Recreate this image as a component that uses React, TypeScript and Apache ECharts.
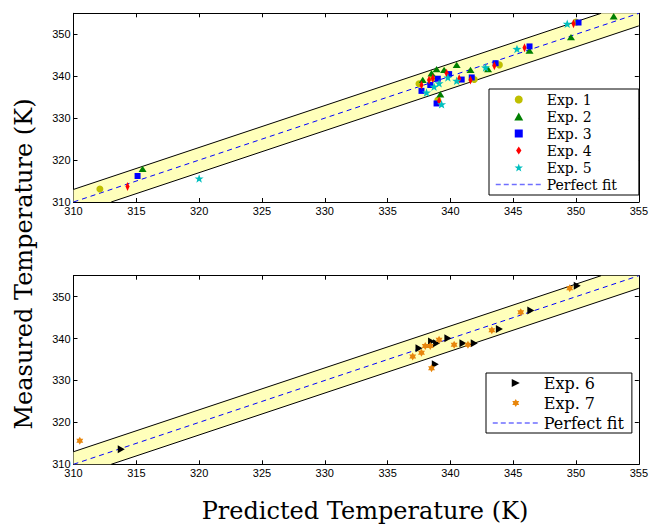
import React, { useEffect, useRef } from "react";
import * as echarts from "echarts";

// ---- axis settings ----
const AXIS_MIN = 310;
const AXIS_MAX = 355;
const X_INTERVAL = 5;
const Y_INTERVAL = 10;
const BAND = 3; // +/- 3 K band

// ---- data (predicted, measured) ----
const exp1 = [
  [312.1, 313.1], [337.5, 338.2], [339.0, 334.3], [341.9, 339.2],
  [343.9, 342.7], [350.0, 352.9], [338.6, 339.6],
];
const exp2 = [
  [315.5, 317.9], [337.8, 339.1], [338.5, 340.7], [338.9, 341.7],
  [339.5, 341.5], [339.2, 335.7], [340.5, 342.7], [341.6, 341.5],
  [343.0, 341.7], [346.3, 346.1], [349.6, 349.3], [353.0, 354.3],
];
const exp3 = [
  [315.1, 316.2], [337.7, 336.5], [338.4, 337.9], [339.0, 339.4],
  [339.9, 340.5], [340.9, 339.2], [341.7, 339.7], [338.9, 333.5],
  [343.6, 343.1], [346.3, 347.1], [350.2, 352.8],
];
const exp4 = [
  [314.3, 313.7], [337.7, 337.9], [338.3, 339.1], [338.6, 339.5],
  [339.7, 340.7], [340.7, 339.4], [341.6, 339.1], [339.1, 334.1],
  [343.5, 342.5], [345.9, 346.8], [349.8, 352.5],
];
const exp5 = [
  [320.0, 315.6], [338.1, 336.1], [338.7, 337.5], [339.1, 338.3],
  [339.8, 339.7], [340.5, 338.9], [339.3, 333.3], [342.8, 342.1],
  [345.3, 346.5], [349.3, 352.5],
];
const exp6 = [
  [313.8, 313.6], [337.5, 337.7], [338.5, 339.3], [338.9, 338.9],
  [339.8, 340.1], [341.0, 338.9], [341.9, 338.9], [338.8, 333.9],
  [343.9, 342.3], [346.4, 346.7], [350.1, 352.6],
];
const exp7 = [
  [310.5, 315.6], [337.0, 335.7], [337.7, 336.6], [338.0, 338.2],
  [338.4, 338.2], [339.1, 339.7], [340.3, 338.5], [341.4, 338.5],
  [338.5, 332.9], [343.3, 342.0], [345.6, 346.3], [349.5, 352.0],
];

const topNames = ["Exp. 1", "Exp. 2", "Exp. 3", "Exp. 4", "Exp. 5", "Perfect fit"];
const bottomNames = ["Exp. 6", "Exp. 7", "Perfect fit"];

// ---- symbols ----
const STAR5 =
  "path://M0,-10L2.35,-3.24L9.51,-3.09L3.8,1.24L5.88,8.09L0,4L-5.88,8.09L-3.8,1.24L-9.51,-3.09L-2.35,-3.24Z";
const hexPts: string[] = [];
for (let k = 0; k < 12; k++) {
  const a = (-90 + k * 30) * (Math.PI / 180);
  const r = k % 2 === 0 ? 10 : 5.8;
  hexPts.push(`${(r * Math.cos(a)).toFixed(2)},${(r * Math.sin(a)).toFixed(2)}`);
}
const STAR6 = "path://M" + hexPts.join("L") + "Z";
const TRI_RIGHT = "path://M0,0L10,5L0,10Z";
const TRI_UP = "path://M5,0L10,9L0,9Z";
const DIAMOND = "path://M4,0L8,6L4,12L0,6Z";
const SQUARE = "path://M0,0L10,0L10,10L0,10Z";

const SERIF = "DejaVu Serif";
const SANS = "Liberation Sans";
const BAND_FILL = "#ffffbb";

function bandPolygon() {
  return [
    [AXIS_MIN, AXIS_MIN],
    [AXIS_MIN + BAND, AXIS_MIN],
    [AXIS_MAX, AXIS_MAX - BAND],
    [AXIS_MAX, AXIS_MAX],
    [AXIS_MAX - BAND, AXIS_MAX],
    [AXIS_MIN, AXIS_MIN + BAND],
  ];
}

function makeAxes(gridIndex: number) {
  const common = {
    gridIndex,
    type: "value" as const,
    min: AXIS_MIN,
    max: AXIS_MAX,
    splitLine: { show: false },
    axisLine: { show: true, onZero: false, lineStyle: { color: "#000", width: 1 } },
    axisTick: { show: true, inside: true, length: 4, lineStyle: { color: "#000" } },
  };
  const x = [
    {
      ...common,
      interval: X_INTERVAL,
      position: "bottom",
      axisLabel: { show: true, color: "#000", fontFamily: SANS, fontSize: 11, margin: 3 },
    },
    {
      ...common,
      interval: X_INTERVAL,
      position: "top",
      axisLabel: { show: false },
    },
  ];
  const y = [
    {
      ...common,
      interval: Y_INTERVAL,
      position: "left",
      axisLabel: {
        show: true,
        color: "#000",
        fontFamily: SANS,
        fontSize: 11,
        margin: 3,
        formatter: (v: number) => (v % Y_INTERVAL === 0 ? String(v) : ""),
      },
    },
    {
      ...common,
      interval: Y_INTERVAL,
      position: "right",
      axisLabel: { show: false },
    },
  ];
  return { x, y };
}

function bandSeries(xi: number, yi: number) {
  return [
    {
      type: "custom",
      name: "band",
      xAxisIndex: xi,
      yAxisIndex: yi,
      silent: true,
      data: [[AXIS_MIN, AXIS_MIN]],
      renderItem: (_p: any, api: any) => ({
        type: "polygon",
        shape: { points: bandPolygon().map((p) => api.coord(p)) },
        style: { fill: BAND_FILL },
      }),
      z: 1,
    },
    {
      type: "line",
      name: "upper",
      xAxisIndex: xi,
      yAxisIndex: yi,
      silent: true,
      symbol: "none",
      data: [[AXIS_MIN, AXIS_MIN + BAND], [AXIS_MAX - BAND, AXIS_MAX]],
      lineStyle: { color: "#000", width: 1 },
      z: 2,
    },
    {
      type: "line",
      name: "lower",
      xAxisIndex: xi,
      yAxisIndex: yi,
      silent: true,
      symbol: "none",
      data: [[AXIS_MIN + BAND, AXIS_MIN], [AXIS_MAX, AXIS_MAX - BAND]],
      lineStyle: { color: "#000", width: 1 },
      z: 2,
    },
    {
      type: "line",
      name: "Perfect fit",
      xAxisIndex: xi,
      yAxisIndex: yi,
      silent: true,
      symbol: "none",
      data: [[AXIS_MIN, AXIS_MIN], [AXIS_MAX, AXIS_MAX]],
      lineStyle: { color: "#0000ff", width: 1, type: [5, 4] },
      itemStyle: { color: "#0000ff" },
      z: 3,
    },
  ];
}

function scatter(name: string, data: number[][], xi: number, yi: number, symbol: string, size: any, color: string) {
  return {
    type: "scatter",
    name,
    xAxisIndex: xi,
    yAxisIndex: yi,
    data,
    symbol,
    symbolSize: size,
    symbolKeepAspect: true,
    itemStyle: { color, opacity: 1 },
    z: 4,
  };
}

const legendBase = {
  orient: "vertical",
  backgroundColor: "#fff",
  borderColor: "#000",
  borderWidth: 1,
  borderRadius: 0,
  itemWidth: 46,
  itemHeight: 8,
  itemGap: 4,
  symbolKeepAspect: true,
  padding: [2, 8, 2, 6],
  selectedMode: false,
  textStyle: { fontFamily: SERIF, fontSize: 16, color: "#000" },
};

function legendData(names: string[]) {
  return names.map((n) =>
    n === "Perfect fit"
      ? {
          name: n,
          itemStyle: { color: "rgba(0,0,0,0)", borderColor: "rgba(0,0,0,0)", borderWidth: 0, opacity: 0 },
          lineStyle: { color: "#6f6fff", width: 1.5, type: [5, 3] },
        }
      : { name: n }
  );
}

export default function App() {
  const ref = useRef<HTMLDivElement>(null);
  useEffect(() => {
    if (!ref.current) return;
    const chart = echarts.init(ref.current, undefined, { renderer: "svg" });
    const a0 = makeAxes(0);
    const a1 = makeAxes(1);
    const option: any = {
      animation: false,
      backgroundColor: "#fff",
      grid: [
        { left: 73.5, right: 8.5, top: 13.3, height: 188.7 },
        { left: 73.5, right: 8.5, top: 275.7, height: 188.6 },
      ],
      xAxis: [...a0.x, ...a1.x],
      yAxis: [...a0.y, ...a1.y],
      legend: [
        {
          ...legendBase,
          left: 489,
          top: 89,
          itemGap: 0,
          padding: [2, 22, 2, 6],
          textStyle: { fontFamily: SERIF, fontSize: 14, lineHeight: 17, color: "#000" },
          data: legendData(topNames),
        },
        {
          ...legendBase,
          left: 486,
          top: 373,
          data: legendData(bottomNames),
        },
      ],
      series: [
        ...bandSeries(0, 0),
        scatter("Exp. 1", exp1, 0, 0, "circle", 7, "#bfbf00"),
        scatter("Exp. 2", exp2, 0, 0, TRI_UP, [8, 7], "#008000"),
        scatter("Exp. 3", exp3, 0, 0, SQUARE, 6, "#0000ff"),
        scatter("Exp. 4", exp4, 0, 0, DIAMOND, [6, 9], "#ff0000"),
        scatter("Exp. 5", exp5, 0, 0, STAR5, 9, "#00bfbf"),
        ...bandSeries(2, 2),
        scatter("Exp. 6", exp6, 2, 2, TRI_RIGHT, [7, 8], "#000000"),
        scatter("Exp. 7", exp7, 2, 2, STAR6, 8, "#e8860c"),
      ],
      graphic: [
        {
          type: "text",
          x: 24,
          y: 264,
          rotation: Math.PI / 2,
          style: {
            text: "Measured Temperature (K)",
            font: `24px "${SERIF}"`,
            fill: "#000",
            textAlign: "center",
            textVerticalAlign: "middle",
          },
        },
        {
          type: "text",
          x: 365,
          y: 511,
          style: {
            text: "Predicted Temperature (K)",
            font: `24px "${SERIF}"`,
            fill: "#000",
            textAlign: "center",
            textVerticalAlign: "middle",
          },
        },
      ],
    };
    chart.setOption(option);
    return () => chart.dispose();
  }, []);
  return (
    <div
      ref={ref}
      style={{ position: "absolute", left: 0, top: 0, width: 651, height: 526, background: "#fff" }}
    />
  );
}
